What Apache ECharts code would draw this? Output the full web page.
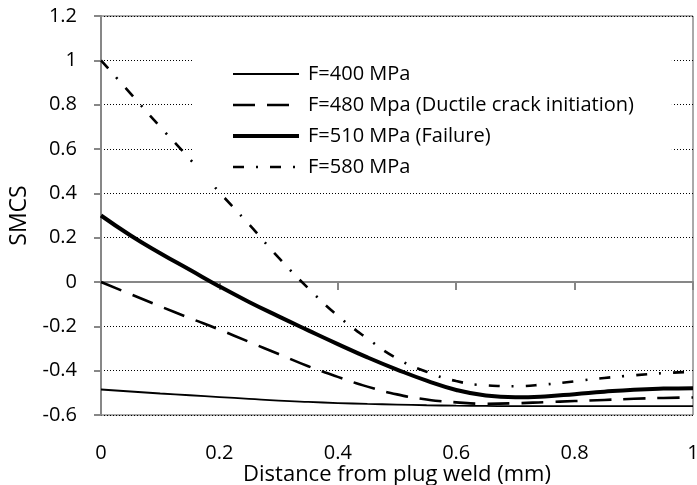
<!DOCTYPE html>
<html>
<head>
<meta charset="utf-8">
<script src="https://cdn.jsdelivr.net/npm/echarts@6/dist/echarts.min.js"></script>
<style>
  html, body { margin: 0; padding: 0; background: #fff; }
  #myChart { width: 697px; height: 485px; }
</style>
</head>
<body>
<div id="myChart"></div>
<script>
// distance from plug weld (mm)
var dist = [0, 0.05, 0.1, 0.15, 0.2, 0.25, 0.3, 0.35, 0.4, 0.45, 0.5,
            0.55, 0.6, 0.65, 0.7, 0.75, 0.8, 0.85, 0.9, 0.95, 1.0];
var names = ['F=400 MPa', 'F=480 Mpa (Ductile crack initiation)', 'F=510 MPa (Failure)', 'F=580 MPa'];
// SMCS values
var f400 = [-0.485, -0.494, -0.503, -0.511, -0.519, -0.527, -0.535, -0.541, -0.546, -0.550, -0.553,
            -0.556, -0.558, -0.559, -0.560, -0.560, -0.560, -0.560, -0.560, -0.560, -0.560];
var f480 = [0, -0.055, -0.11, -0.163, -0.215, -0.27, -0.325, -0.38, -0.428, -0.472, -0.507,
            -0.53, -0.543, -0.549, -0.547, -0.542, -0.537, -0.532, -0.527, -0.523, -0.521];
var f510 = [0.3, 0.21, 0.13, 0.055, -0.02, -0.09, -0.155, -0.218, -0.28, -0.34, -0.395,
            -0.445, -0.487, -0.512, -0.52, -0.516, -0.506, -0.495, -0.486, -0.481, -0.479];
var f580 = [1.0, 0.85, 0.7, 0.555, 0.405, 0.26, 0.11, -0.028, -0.152, -0.255, -0.345,
            -0.405, -0.447, -0.466, -0.47, -0.462, -0.448, -0.433, -0.421, -0.411, -0.405];

// line widths / dash patterns per series
var widths = [1.8, 2.6, 4, 2.6];
var dashes = ['solid', [22, 12], 'solid', [11, 12, 2, 12]];

function pairs(ys) {
    return ys.map(function (y, i) { return [dist[i], y]; });
}

var myChart = echarts.init(document.getElementById('myChart'));
var font = 'Open Sans';
var noDot = { color: 'rgba(0,0,0,0)', borderWidth: 0 };

myChart.setOption({
    animation: false,
    textStyle: { fontFamily: font, color: '#000' },
    grid: {
        left: 101, right: 4, top: 16, bottom: 70,
        outerBoundsMode: 'none',
        show: true, borderColor: '#555', borderWidth: 1
    },
    legend: {
        data: names.map(function (n, i) {
            return {
                name: n,
                itemStyle: noDot,
                lineStyle: { color: '#000', width: widths[i], type: dashes[i] }
            };
        }),
        orient: 'vertical',
        left: 193, top: 30,
        padding: [34, 38, 10, 38],
        backgroundColor: '#fff',
        itemWidth: 66, itemHeight: 14, itemGap: 11,
        textStyle: { fontFamily: font, fontSize: 20, color: '#000', lineHeight: 20, padding: [0, 0, 0, 4] }
    },
    xAxis: {
        type: 'value', min: 0, max: 1, interval: 0.2,
        name: 'Distance from plug weld (mm)',
        nameLocation: 'middle', nameGap: 49, nameMoveOverlap: false,
        nameTextStyle: { fontFamily: font, fontSize: 22, color: '#000' },
        axisLine: { lineStyle: { color: '#878787', width: 2 } },
        axisTick: { show: true, length: 8, lineStyle: { color: '#878787', width: 2 } },
        axisLabel: { fontFamily: font, fontSize: 20, color: '#000', margin: 28 },
        splitLine: { show: false }
    },
    yAxis: {
        type: 'value', min: -0.6, max: 1.2, interval: 0.2,
        name: 'SMCS',
        nameLocation: 'middle', nameGap: 70, nameMoveOverlap: false,
        nameTextStyle: { fontFamily: font, fontSize: 23, color: '#000' },
        axisLine: { show: true, lineStyle: { color: '#878787', width: 2 } },
        axisTick: { show: true, length: 7, lineStyle: { color: '#878787', width: 2 } },
        axisLabel: { fontFamily: font, fontSize: 20, color: '#000', margin: 24 },
        splitLine: { show: true, lineStyle: { color: '#000', width: 1, type: [1, 2] } }
    },
    series: names.map(function (n, i) {
        return {
            name: n, type: 'line', data: pairs([f400, f480, f510, f580][i]), smooth: true,
            symbol: 'none', showSymbol: false,
            itemStyle: noDot,
            lineStyle: { color: '#000', width: widths[i], type: dashes[i] }
        };
    })
});
</script>
</body>
</html>
